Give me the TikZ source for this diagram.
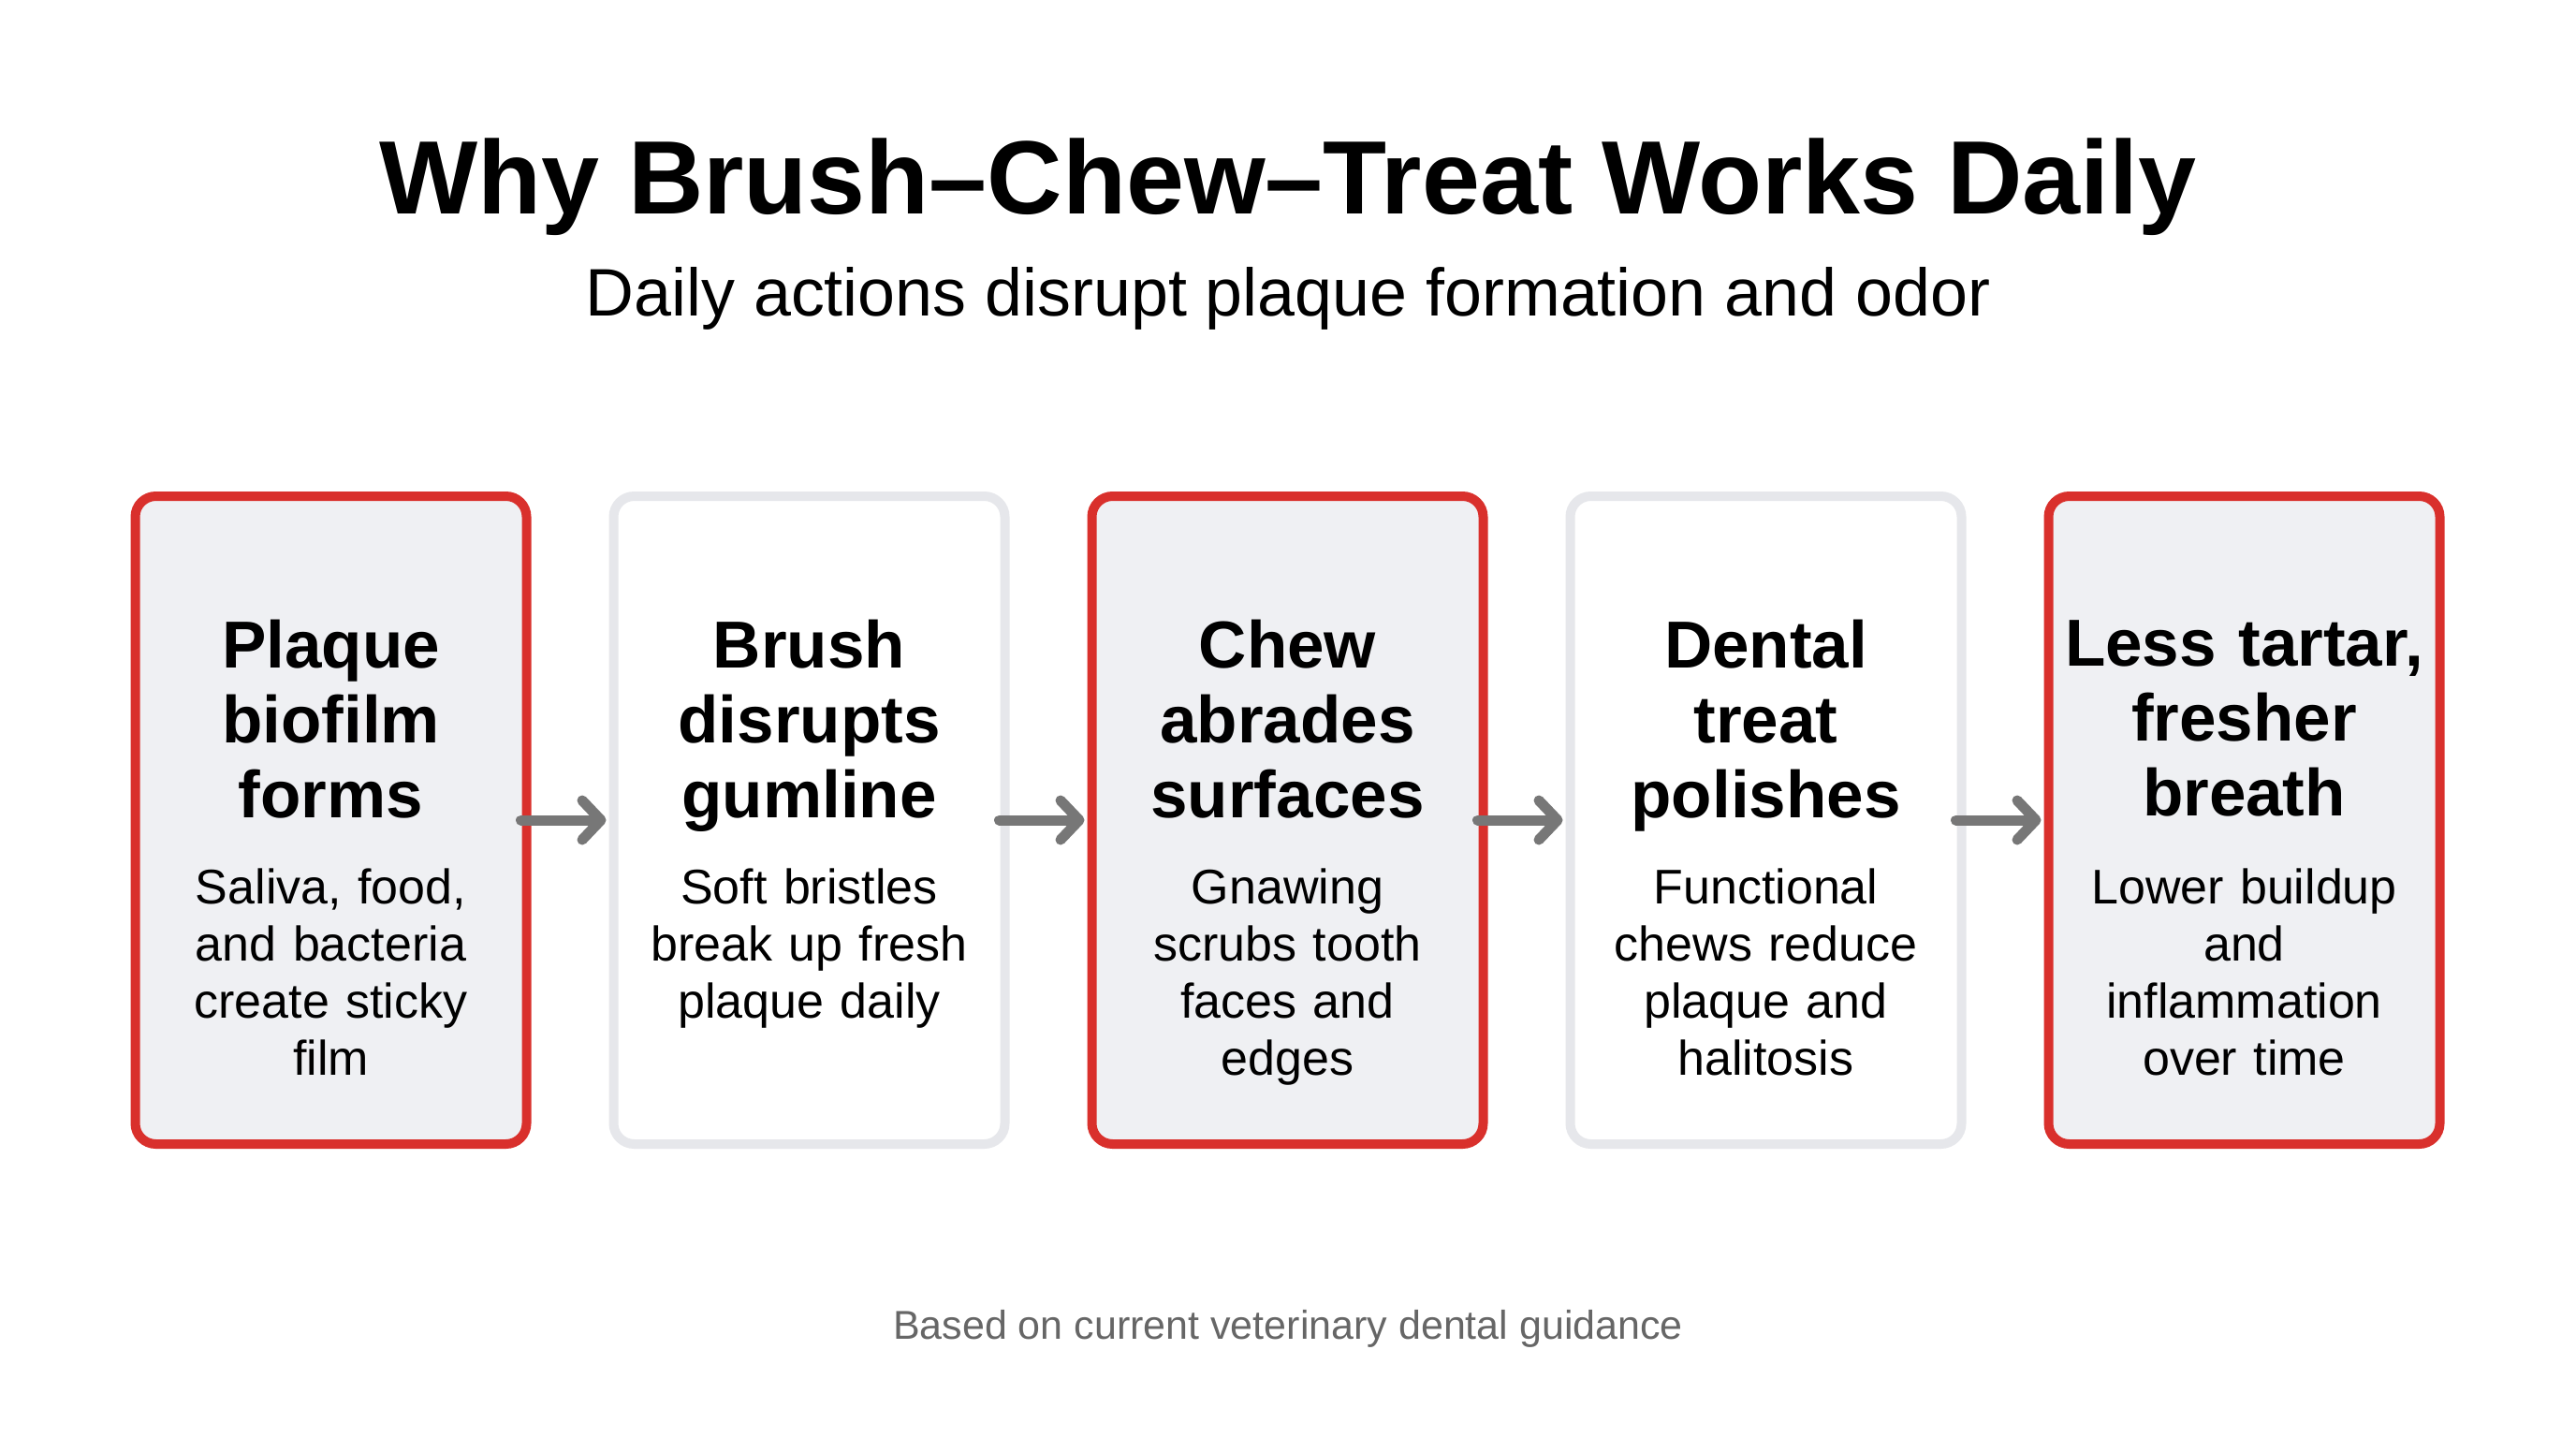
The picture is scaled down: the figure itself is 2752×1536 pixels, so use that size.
\documentclass[tikz,border=0pt]{standalone}
\usepackage{fontspec}
\setmainfont{Liberation Sans}
\usetikzlibrary{arrows.meta}
\definecolor{accred}{HTML}{D9302C}
\definecolor{boxgrey}{HTML}{E6E7EB}
\definecolor{boxfill}{HTML}{EFF0F3}
\definecolor{arrgrey}{HTML}{777777}
\definecolor{foot}{HTML}{666666}
\begin{document}
\begin{tikzpicture}[x=0.5pt,y=-0.5pt,
  card/.style={rounded corners=11pt, line width=5pt, minimum width=209pt, minimum height=346pt, inner sep=0pt, outer sep=0pt},
  redcard/.style={card, draw=accred, fill=boxfill},
  greycard/.style={card, draw=boxgrey, fill=white},
  ctitle/.style={font=\bfseries\fontsize{35.5}{40}\selectfont, align=center, text width=205pt, anchor=north, inner sep=0pt},
  cdesc/.style={font=\fontsize{26}{30.5}\selectfont, align=center, text width=205pt, anchor=north, inner sep=0pt},
  flow/.style={draw=arrgrey, line width=5.5pt, line cap=round, -{Straight Barb[length=10pt, width=21pt, line cap=round, line join=round]}}
]
\useasboundingbox[fill=white] (0,0) rectangle (2752,1536);
\node[font=\bfseries\fontsize{55.7}{62}\selectfont, anchor=base] (title) at (1376,228) {Why Brush–Chew–Treat Works Daily};
\node[font=\fontsize{35.9}{40}\selectfont, anchor=base] (sub) at (1376,337) {Daily actions disrupt plaque formation and odor};

\node[redcard] (b1) at (353.5,876) {};
\node[greycard] (b2) at (864.5,876) {};
\node[redcard] (b3) at (1375.5,876) {};
\node[greycard] (b4) at (1886.5,876) {};
\node[redcard] (b5) at (2397.5,876) {};

\node[ctitle] (t1) at (353.5,662) {Plaque\\biofilm\\forms};
\node[ctitle] (t2) at (864.5,662) {Brush\\disrupts\\gumline};
\node[ctitle] (t3) at (1375.5,662) {Chew\\abrades\\surfaces};
\node[ctitle] (t4) at (1886.5,662) {Dental\\treat\\polishes};
\node[ctitle] (t5) at (2397.5,662) {Less tartar,\\fresher\\breath};

\node[cdesc] (d1) at (353.5,927) {Saliva, food,\\and bacteria\\create sticky\\film};
\node[cdesc] (d2) at (864.5,927) {Soft bristles\\break up fresh\\plaque daily};
\node[cdesc] (d3) at (1375.5,927) {Gnawing\\scrubs tooth\\faces and\\edges};
\node[cdesc] (d4) at (1886.5,927) {Functional\\chews reduce\\plaque and\\halitosis};
\node[cdesc] (d5) at (2397.5,927) {Lower buildup\\and\\inflammation\\over time};

\draw[flow] ([xshift=-3pt]b1.east) -- ([xshift=-4pt]b2.west);
\draw[flow] ([xshift=-3pt]b2.east) -- ([xshift=-4pt]b3.west);
\draw[flow] ([xshift=-3pt]b3.east) -- ([xshift=-4pt]b4.west);
\draw[flow] ([xshift=-3pt]b4.east) -- ([xshift=-4pt]b5.west);

\node[font=\fontsize{21.5}{26}\selectfont, text=foot, anchor=base] (note) at (1376,1430) {Based on current veterinary dental guidance};
\end{tikzpicture}
\end{document}
